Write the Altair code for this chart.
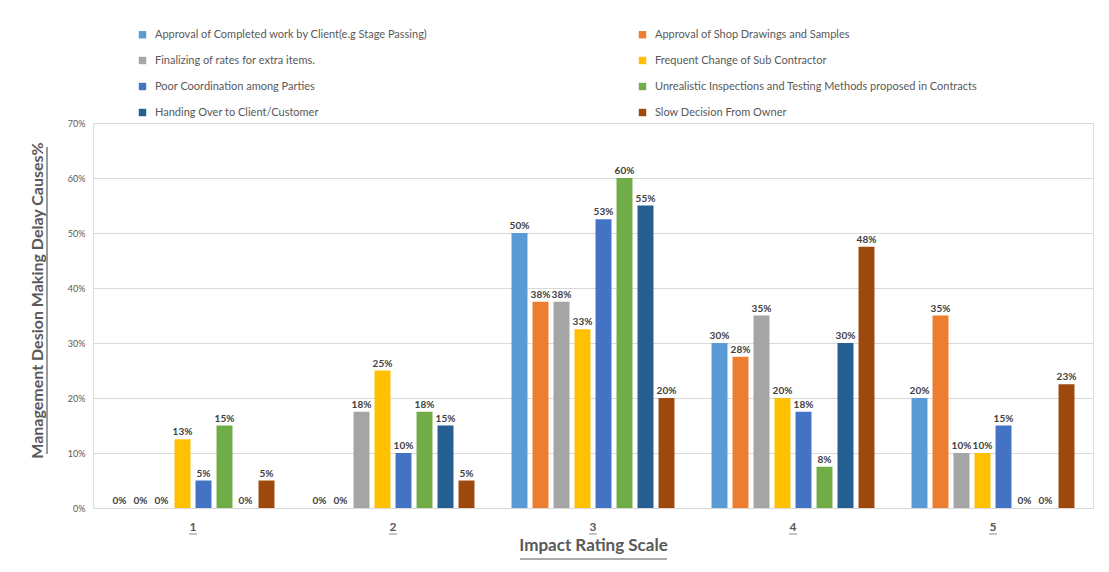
import altair as alt
import pandas as pd

ratings = ["1", "2", "3", "4", "5"]
causes = [
    "Approval of Completed work by Client(e.g Stage Passing)",
    "Approval of Shop Drawings and Samples",
    "Finalizing of rates for extra items.",
    "Frequent Change of Sub Contractor",
    "Poor Coordination among Parties",
    "Unrealistic Inspections and Testing Methods proposed in Contracts",
    "Handing Over to Client/Customer",
    "Slow Decision From Owner",
]
colors = ["#5B9BD5", "#ED7D31", "#A5A5A5", "#FFC000", "#4472C4", "#70AD47", "#255E91", "#9E480E"]

# values in percent, per cause, across ratings 1..5
approval_completed = [0, 0, 50, 30, 20]
approval_shop = [0, 0, 37.5, 27.5, 35]
finalizing_rates = [0, 17.5, 37.5, 35, 10]
frequent_change = [12.5, 25, 32.5, 20, 10]
poor_coordination = [5, 10, 52.5, 17.5, 15]
unrealistic_inspections = [15, 17.5, 60, 7.5, 0]
handing_over = [0, 15, 55, 30, 0]
slow_decision = [5, 5, 20, 47.5, 22.5]

series = [approval_completed, approval_shop, finalizing_rates, frequent_change,
          poor_coordination, unrealistic_inspections, handing_over, slow_decision]

rows = []
for cause, vals in zip(causes, series):
    for r, v in zip(ratings, vals):
        rows.append({"rating": r, "cause": cause, "value": v,
                     "label": f"{int(v + 0.5)}%"})
df = pd.DataFrame(rows)

FONT = "Lato"
GRAY = "#595959"

xenc = alt.X("rating:N", sort=ratings,
             scale=alt.Scale(paddingInner=0.16, paddingOuter=0.08),
             axis=alt.Axis(title="Impact Rating Scale", labelAngle=0,
                           labelFont=FONT, labelFontSize=12, labelFontWeight="bold",
                           labelColor=GRAY, labelPadding=13, ticks=False, domain=False,
                           grid=False, titleFont=FONT, titleFontSize=17,
                           titleFontWeight="bold", titleColor=GRAY, titlePadding=5))

base = alt.Chart(df).encode(
    x=xenc,
    xOffset=alt.XOffset("cause:N", sort=causes,
                        scale=alt.Scale(paddingInner=0.24, paddingOuter=0.12)),
    y=alt.Y("value:Q", scale=alt.Scale(domain=[0, 70], nice=False),
            axis=alt.Axis(title="Management Desion Making  Delay Causes%",
                          values=[0, 10, 20, 30, 40, 50, 60, 70],
                          labelExpr="datum.value + '%'",
                          labelFont=FONT, labelFontSize=9, labelColor=GRAY,
                          labelPadding=8, ticks=False, domain=False,
                          grid=True, gridColor="#D9D9D9", gridWidth=1,
                          titleFont=FONT, titleFontSize=16, titleFontWeight="bold",
                          titleColor=GRAY, titlePadding=22, titleY=177)),
)

bars = base.mark_bar().encode(
    color=alt.Color("cause:N", sort=causes,
                    scale=alt.Scale(domain=causes, range=colors),
                    legend=alt.Legend(orient="none", legendX=44, legendY=-94,
                                      columns=2, columnPadding=209, rowPadding=14,
                                      symbolType="square", symbolSize=55,
                                      symbolStrokeWidth=0, labelFont=FONT,
                                      labelFontSize=11, labelColor=GRAY,
                                      labelLimit=600, labelOffset=7, title=None,
                                      direction="horizontal"))
)

text = base.mark_text(dy=-7, font=FONT, fontSize=10, fontWeight="bold",
                      color="#404040").encode(text="label:N")

# underlines of the category labels (Excel underlined text)
label_ul = alt.Chart(pd.DataFrame({"rating": ratings})).mark_tick(
    orient="horizontal", size=8, thickness=1, color=GRAY
).encode(x=alt.X("rating:N", sort=ratings), y=alt.value(411))

# underline of the x title and y title
x_title_ul = alt.Chart(pd.DataFrame({"k": [0]})).mark_rule(color=GRAY, strokeWidth=1.2).encode(
    x=alt.value(427), x2=alt.value(574), y=alt.value(436))
y_title_ul = alt.Chart(pd.DataFrame({"k": [0]})).mark_rule(color=GRAY, strokeWidth=1.2).encode(
    x=alt.value(-46), y=alt.value(24), y2=alt.value(331))

chart = alt.layer(bars, text, label_ul, x_title_ul, y_title_ul).properties(
    width=1000, height=385,
    padding={"left": 85, "top": 115, "right": 8, "bottom": 56},
    autosize=alt.AutoSizeParams(type="none"),
).configure_view(stroke=None).configure(background="white")

chart.save("out.html", embed_options={"renderer": "svg", "actions": False})
